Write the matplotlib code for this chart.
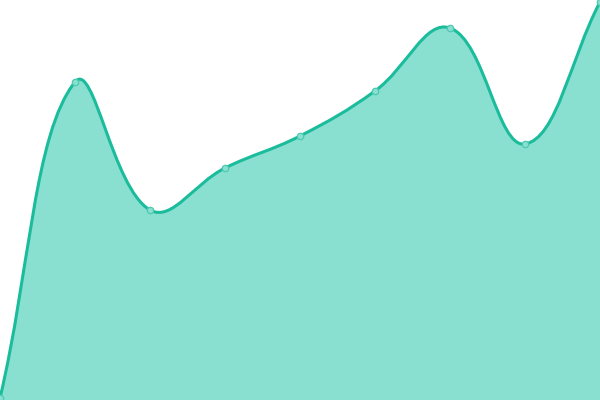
import numpy as np
import matplotlib
matplotlib.use("Agg")
import matplotlib.pyplot as plt
from matplotlib.path import Path
from matplotlib.patches import PathPatch

labels = ["1", "2", "3", "4", "5", "6", "7", "8", "9"]
values = [2, 318, 190, 232, 264, 309, 372, 256, 398]

LINE = "#1abc9c"
FILL = "#8ae0d0"

fig = plt.figure(figsize=(6, 4), dpi=100)
ax = fig.add_axes([0, 0, 1, 1])
ax.set_xlim(0, len(values) - 1)
ax.set_ylim(0, 400)
ax.axis("off")

xs = np.arange(len(values), dtype=float)
pts = ax.transData.transform(np.column_stack([xs, values]))

# Chart.js-style spline control points (tension 0.4) in pixel space
t = 0.4
n = len(pts)
cp_prev = pts.copy()
cp_next = pts.copy()
for i in range(n):
    p = pts[max(i - 1, 0)]
    c = pts[i]
    nx = pts[min(i + 1, n - 1)]
    d01 = np.hypot(*(c - p))
    d12 = np.hypot(*(nx - c))
    tot = d01 + d12
    s01 = d01 / tot if tot else 0
    s12 = d12 / tot if tot else 0
    fa = t * s01
    fb = t * s12
    cp_prev[i] = c - fa * (nx - p)
    cp_next[i] = c + fb * (nx - p)

verts = [pts[0]]
codes = [Path.MOVETO]
for i in range(n - 1):
    verts += [cp_next[i], cp_prev[i + 1], pts[i + 1]]
    codes += [Path.CURVE4] * 3

inv = ax.transData.inverted()
vdata = inv.transform(np.array(verts))
line_path = Path(vdata, codes)

fill_verts = list(vdata) + [[xs[-1], 0], [xs[0], 0], vdata[0]]
fill_codes = codes + [Path.LINETO, Path.LINETO, Path.CLOSEPOLY]
ax.add_patch(PathPatch(Path(fill_verts, fill_codes), facecolor=FILL, edgecolor="none", zorder=1))
ax.add_patch(PathPatch(line_path, facecolor="none", edgecolor=LINE, linewidth=2.2, zorder=2,
                       capstyle="round", joinstyle="round"))
ax.plot(xs, values, linestyle="none", marker="o", markersize=4.6,
        markerfacecolor=FILL, markeredgecolor="#4cc9b0", markeredgewidth=0.9, zorder=3, clip_on=False)

fig.savefig("out.png", dpi=100)
